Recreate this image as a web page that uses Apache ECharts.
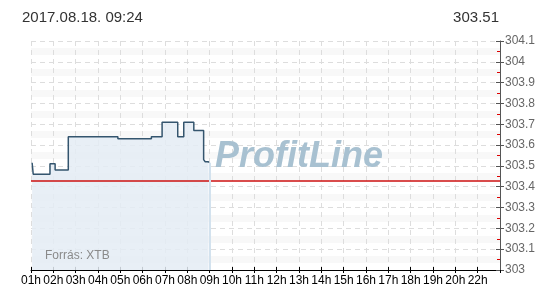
<!DOCTYPE html>
<html>
<head>
<meta charset="utf-8">
<script src="https://cdn.jsdelivr.net/npm/echarts@6/dist/echarts.min.js"></script>
<style>
html,body{margin:0;padding:0;background:#fff;}
#c{width:550px;height:300px;}
</style>
</head>
<body>
<div id="c"></div>
<script>
var hourLabels = ['01h','02h','03h','04h','05h','06h','07h','08h','09h','10h','11h','12h','13h','14h','15h','16h','17h','18h','19h','20h','22h'];
// time in hours after 01h, price
var times  = [0.05, 0.1, 0.85, 1.08, 1.67, 3.89, 5.39, 5.87, 6.57, 6.84, 7.29, 7.73, 7.8, 7.95];
var prices = [303.515, 303.46, 303.51, 303.48, 303.64, 303.63, 303.64, 303.71, 303.64, 303.71, 303.67, 303.53, 303.52, 303.515];
var prevClose = 303.43;
var nowMarker = 8.0;
var axisEnd = 21;
var titleText = '2017.08.18. 09:24';
var lastText = '303.51';
var sourceText = 'Forrás: XTB';
var watermark = 'ProfitLine';

var data = times.map(function(t,i){return [t, prices[i]];});
var chart = echarts.init(document.getElementById('c'));
var FONT = '"Liberation Sans", Arial, sans-serif';
chart.setOption({
  animation:false,
  grid:{left:31,right:50,top:41,bottom:30},
  graphic:[
    {type:'text',left:22,top:10,style:{text:titleText,font:'15px '+FONT,fill:'#333'}},
    {type:'text',right:51,top:10,style:{text:lastText,font:'15px '+FONT,fill:'#333'}},
    {type:'text',left:45,top:250,z:10,style:{text:sourceText,font:'12px '+FONT,fill:'#8a8a8a'}},
    {type:'text',left:215,top:139,z:10,style:{text:watermark,font:'italic bold 36px '+FONT,fill:'#a8c1d1'}}
  ],
  xAxis:[{
    type:'value',min:0,max:axisEnd,interval:1,position:'bottom',
    axisLine:{onZero:false,lineStyle:{color:'#000'}},
    axisTick:{show:true,length:3,lineStyle:{color:'#000'}},
    axisLabel:{color:'#000',fontSize:12,fontFamily:FONT,margin:5,
      formatter:function(v){return hourLabels[Math.round(v)]||'';}},
    splitLine:{show:true,lineStyle:{color:'#dddddd',type:[5,4]}}
  },{
    type:'value',min:0,max:axisEnd,interval:1,position:'top',offset:-229,
    axisLine:{show:false,onZero:false},
    axisTick:{show:true,inside:false,length:3,lineStyle:{color:'#000'}},
    axisLabel:{show:false},splitLine:{show:false}
  }],
  yAxis:[{
    type:'value',position:'right',min:303,max:304.1,interval:0.1,
    axisLine:{show:true,onZero:false,lineStyle:{color:'#444'}},
    axisTick:{show:true,length:4,lineStyle:{color:'#555'}},
    axisLabel:{color:'#666',fontSize:12,fontFamily:FONT,margin:5,
      formatter:function(v){return String(Math.round(v*10)/10);}},
    splitLine:{show:true,lineStyle:{color:'#dddddd',type:[5,4]}},
    minorTick:{show:false,splitNumber:2},
    minorSplitLine:{show:true,lineStyle:{color:'#f8f8f8',width:7}}
  },{
    type:'value',position:'left',offset:-469,min:303,max:304.1,interval:0.1,
    axisLine:{show:false,onZero:false},
    axisTick:{show:true,inside:false,length:4,lineStyle:{color:'#555'}},
    axisLabel:{show:false},splitLine:{show:false},
    minorTick:{show:true,splitNumber:2,length:3,lineStyle:{color:'#dd0000'}}
  }],
  series:[{
    type:'line',data:data,step:'end',showSymbol:false,
    lineStyle:{color:'#34556e',width:1.5},
    areaStyle:{color:'#e4ecf4',opacity:0.85,origin:'start'},
    markLine:{
      silent:true,symbol:'none',label:{show:false},
      data:[
        {yAxis:prevClose,lineStyle:{color:'#cc1111',width:1.5,type:'solid'}},
        {xAxis:axisEnd,lineStyle:{color:'#555',width:1,type:'solid'}},
        [{coord:[nowMarker,303],lineStyle:{color:'#d3e2ee',width:2,type:'solid'}},{coord:[nowMarker,prices[prices.length-1]]}]
      ]
    }
  }]
});
</script>
</body>
</html>
